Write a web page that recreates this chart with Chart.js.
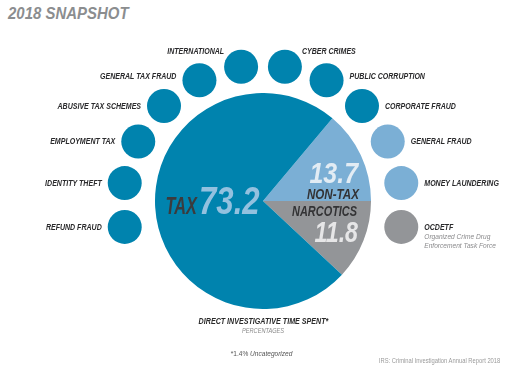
<!DOCTYPE html>
<html>
<head>
<meta charset="utf-8">
<script src="https://cdn.jsdelivr.net/npm/chart.js@4.4.0/dist/chart.umd.min.js"></script>
<style>
body { margin:0; background:#fff; width:512px; height:369px; position:relative; overflow:hidden;
       font-family:'Liberation Sans',Arial,sans-serif; }
canvas { position:absolute; }
#pie { left:155px; top:93px; }
#ring { left:0; top:0; }
.t { position:absolute; white-space:nowrap; font-style:italic; line-height:1; }
.t span { display:inline-block; }
#title { left:8px; top:5px; font-size:17px; font-weight:bold; color:#8b8d8f; }
#title span { transform:scaleX(0.88); transform-origin:left center; }
#cap { left:0; width:526px; text-align:center; top:316px; font-size:9.5px; font-weight:bold; color:#2a2a2a; }
#sub { left:0; width:526px; text-align:center; top:327px; font-size:7.5px; color:#8a8a8a; }
#note { left:0; width:524px; text-align:center; top:350px; font-size:8px; color:#555; font-style:normal; }
#src { right:12px; top:357px; font-size:7px; color:#9a9a9a; font-style:normal; }
#src span { transform:scaleX(0.83); transform-origin:right center; }
.c span { transform:scaleX(0.75); transform-origin:center center; }
#note span { transform:scaleX(0.82); }
</style>
</head>
<body>
<div class="t" id="title"><span>2018 SNAPSHOT</span></div>
<canvas id="pie" width="216" height="216"></canvas>
<canvas id="ring" width="512" height="369"></canvas>
<div class="t c" id="cap"><span>DIRECT INVESTIGATIVE TIME SPENT*</span></div>
<div class="t c" id="sub"><span>PERCENTAGES</span></div>
<div class="t c" id="note"><span>*1.4% <i>Uncategorized</i></span></div>
<div class="t" id="src"><span>IRS: Criminal Investigation Annual Report 2018</span></div>
<script>
// pie slices
var sliceLabels = ['NON-TAX', 'NARCOTICS', 'TAX'];
var sliceValues = [13.7, 11.8, 73.2];
var sliceColors = ['#7bafd5', '#939598', '#0083ae'];

// satellite circles, right side top->bottom, left side bottom->top
var rightCats = ['CYBER CRIMES', 'PUBLIC CORRUPTION', 'CORPORATE FRAUD', 'GENERAL FRAUD', 'MONEY LAUNDERING', 'OCDETF'];
var rightGroup = ['TAX', 'TAX', 'TAX', 'NON-TAX', 'NON-TAX', 'NARCOTICS'];
var leftCats = ['REFUND FRAUD', 'IDENTITY THEFT', 'EMPLOYMENT TAX', 'ABUSIVE TAX SCHEMES', 'GENERAL TAX FRAUD', 'INTERNATIONAL'];
var leftGroup = ['TAX', 'TAX', 'TAX', 'TAX', 'TAX', 'TAX'];
var emptySpokes = 8;
var ocdetfNote = ['Organized Crime Drug', 'Enforcement Task Force'];

var FONT = "'Liberation Sans',Arial,sans-serif";

function groupColor(g) { return sliceColors[sliceLabels.indexOf(g)]; }

// condensed text: squeeze horizontally around the anchor
function squeezed(ctx, txt, x, y, font, color, align, sx) {
  ctx.save();
  ctx.translate(x, y);
  ctx.scale(sx, 1);
  ctx.font = font;
  ctx.fillStyle = color;
  ctx.textAlign = align;
  ctx.fillText(txt, 0, 0);
  ctx.restore();
}

// build the ring of spokes
var spokes = [], spokeVals = [], spokeCols = [];
rightCats.forEach(function(c, i) { spokes.push(c); spokeVals.push(1); spokeCols.push(groupColor(rightGroup[i])); });
for (var k = 0; k < emptySpokes; k++) { spokes.push(''); spokeVals.push(null); spokeCols.push('rgba(0,0,0,0)'); }
leftCats.forEach(function(c, i) { spokes.push(c); spokeVals.push(1); spokeCols.push(groupColor(leftGroup[i])); });

var pieText = {
  id: 'pieText',
  afterDraw: function(chart) {
    var arc = chart.getDatasetMeta(0).data[0];
    var cx = arc.x, cy = arc.y, ctx = chart.ctx;
    ctx.textBaseline = 'alphabetic';
    squeezed(ctx, 'TAX', cx - 66, cy + 13, 'italic bold 24px ' + FONT, '#3b3b3d', 'right', 0.68);
    squeezed(ctx, sliceValues[2].toFixed(1), cx - 64, cy + 13, 'italic bold 38px ' + FONT, '#93c1df', 'left', 0.82);
    squeezed(ctx, sliceValues[0].toFixed(1), cx + 95, cy - 18, 'italic bold 29px ' + FONT, '#e2ecf4', 'right', 0.86);
    squeezed(ctx, sliceValues[1].toFixed(1), cx + 95, cy + 41, 'italic bold 29px ' + FONT, '#e6e6e7', 'right', 0.8);
    squeezed(ctx, sliceLabels[0], cx + 96, cy - 2, 'italic bold 14px ' + FONT, '#333335', 'right', 0.83);
    squeezed(ctx, sliceLabels[1], cx + 94, cy + 15, 'italic bold 14px ' + FONT, '#333335', 'right', 0.78);
  }
};

new Chart(document.getElementById('pie'), {
  type: 'pie',
  data: {
    labels: sliceLabels,
    datasets: [{ data: sliceValues, backgroundColor: sliceColors, borderWidth: 0 }]
  },
  options: {
    responsive: false,
    animation: false,
    rotation: 40,
    layout: { padding: 0 },
    plugins: { legend: { display: false }, tooltip: { enabled: false } }
  },
  plugins: [pieText]
});

var spokeText = {
  id: 'spokeText',
  afterDatasetsDraw: function(chart) {
    var r = chart.scales.r, ctx = chart.ctx;
    ctx.textBaseline = 'middle';
    spokes.forEach(function(lab, i) {
      if (!lab) return;
      var p = r.getPointPosition(i, r.drawingArea);
      var dx = p.x - r.xCenter, dy = p.y - r.yCenter;
      var side = dx < 0 ? -1 : 1;
      var top = Math.abs(dx) < 40;
      var off = top ? 17 : 23;
      var ty = p.y + (top ? -15 : (dy < -100 ? -4 : 0));
      var al = side < 0 ? 'right' : 'left';
      squeezed(ctx, lab, p.x + side * off, ty, 'italic bold 9.5px ' + FONT, '#2a2a2c', al, 0.74);
      if (lab === 'OCDETF') {
        squeezed(ctx, ocdetfNote[0], p.x + side * off, ty + 10, 'italic 7.5px ' + FONT, '#8a8a8c', al, 0.88);
        squeezed(ctx, ocdetfNote[1], p.x + side * off, ty + 19, 'italic 7.5px ' + FONT, '#8a8a8c', al, 0.88);
      }
    });
  }
};

new Chart(document.getElementById('ring'), {
  type: 'radar',
  data: {
    labels: spokes,
    datasets: [{
      data: spokeVals,
      showLine: false,
      fill: false,
      borderWidth: 0,
      backgroundColor: 'rgba(0,0,0,0)',
      pointBackgroundColor: spokeCols,
      pointBorderWidth: 0,
      pointRadius: 17,
      pointHoverRadius: 17,
      clip: false
    }]
  },
  options: {
    responsive: false,
    animation: false,
    layout: { padding: { left: 123, right: 109, top: 65, bottom: 24 } },
    scales: {
      r: {
        min: 0, max: 1, startAngle: 9,
        grid: { display: false },
        angleLines: { display: false },
        pointLabels: { display: false },
        ticks: { display: false }
      }
    },
    plugins: { legend: { display: false }, tooltip: { enabled: false } }
  },
  plugins: [spokeText]
});
</script>
</body>
</html>
